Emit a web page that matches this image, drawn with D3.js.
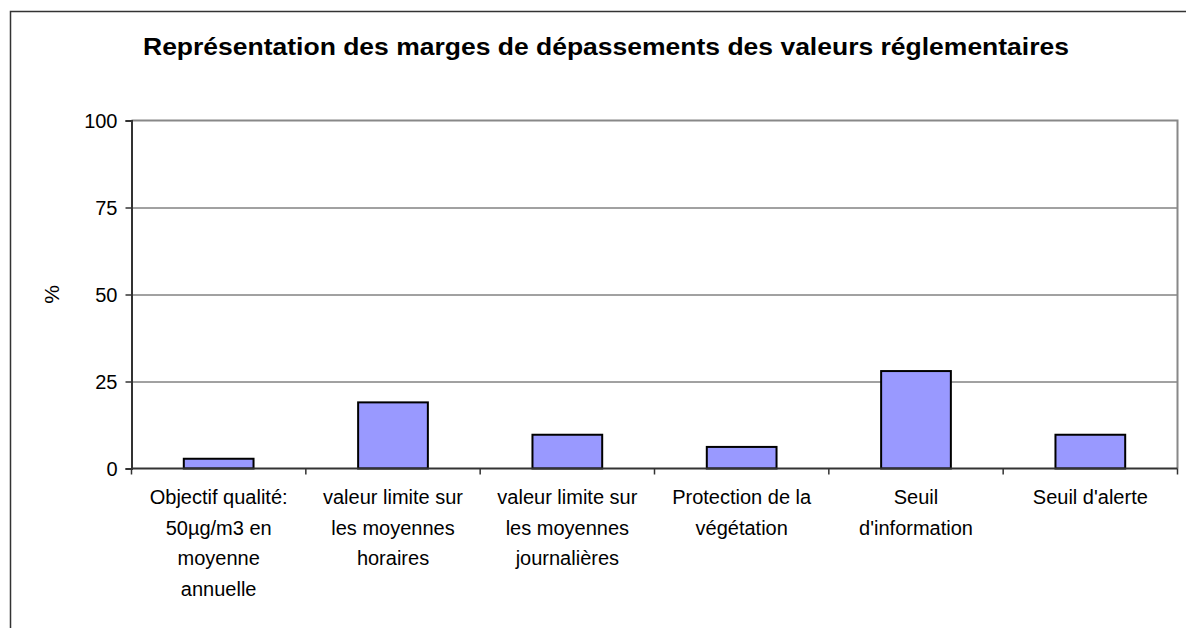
<!DOCTYPE html>
<html>
<head>
<meta charset="utf-8">
<script src="https://cdn.jsdelivr.net/npm/d3@7"></script>
<style>
  body { margin: 0; background: #fff; }
  text { font-family: "Liberation Sans", Arial, sans-serif; fill: #000; }
</style>
</head>
<body>
<svg id="chart"></svg>
<script>
// chart data
const categories = [
  'Objectif qualité:\n50µg/m3 en\nmoyenne\nannuelle',
  'valeur limite sur\nles moyennes\nhoraires',
  'valeur limite sur\nles moyennes\njournalières',
  'Protection de la\nvégétation',
  'Seuil\nd\'information',
  'Seuil d\'alerte'
]
const values = [2.8, 19, 9.7, 6.2, 28, 9.7]
const yTicks = [0, 25, 50, 75, 100]
const title = 'Représentation des marges de dépassements des valeurs réglementaires'
const yLabel = '%'

const W = 1186, H = 628
const plot = { left: 131.5, right: 1177.5, top: 120.5, bottom: 468.5 }

const svg = d3.select('#chart')
    .attr('width', W)
    .attr('height', H)

// outer chart border (runs off the picture on right/bottom)
svg.append('rect')
    .attr('x', 10.5).attr('y', 11.5)
    .attr('width', 1300).attr('height', 800)
    .attr('fill', 'none')
    .attr('stroke', '#333')
    .attr('stroke-width', 1.5)

const x = d3.scaleBand()
    .domain(categories)
    .range([plot.left, plot.right])
    .paddingInner(0.6)
    .paddingOuter(0.3)

const y = d3.scaleLinear()
    .domain([0, 100])
    .range([plot.bottom, plot.top])

// gridlines
svg.append('g')
    .attr('transform', `translate(${plot.left},0)`)
    .call(d3.axisLeft(y).tickValues(yTicks.slice(1, -1)).tickSize(-(plot.right - plot.left)).tickFormat(''))
    .call(g => g.select('.domain').remove())
    .call(g => g.selectAll('line').attr('stroke', '#444').attr('stroke-width', 1))

// plot border top + right
svg.append('path')
    .attr('d', `M${plot.left},${plot.top}H${plot.right}V${plot.bottom}`)
    .attr('fill', 'none')
    .attr('stroke', '#888')
    .attr('stroke-width', 2)

// bars
svg.append('g')
    .selectAll('rect')
    .data(values)
    .join('rect')
        .attr('x', (d, i) => x(categories[i]))
        .attr('y', d => y(d))
        .attr('width', x.bandwidth())
        .attr('height', d => y(0) - y(d))
        .attr('fill', '#9999ff')
        .attr('stroke', '#000')
        .attr('stroke-width', 2)

// y axis
const yAxis = svg.append('g')
    .attr('transform', `translate(${plot.left},0)`)
    .call(d3.axisLeft(y).tickValues(yTicks).tickSize(6).tickPadding(8))
yAxis.select('.domain').attr('stroke', '#333').attr('stroke-width', 2)
yAxis.selectAll('line').attr('stroke', '#333').attr('stroke-width', 1.5)
yAxis.selectAll('text').attr('font-size', 20).attr('dy', '0.35em')

// x axis line + ticks at category boundaries
svg.append('line')
    .attr('x1', plot.left).attr('x2', plot.right)
    .attr('y1', plot.bottom).attr('y2', plot.bottom)
    .attr('stroke', '#333').attr('stroke-width', 2)

const step = x.step()
svg.append('g')
    .selectAll('line')
    .data(d3.range(categories.length + 1))
    .join('line')
        .attr('x1', i => plot.left + i * step)
        .attr('x2', i => plot.left + i * step)
        .attr('y1', plot.bottom)
        .attr('y2', plot.bottom + 6)
        .attr('stroke', '#333')
        .attr('stroke-width', 1.5)

// category labels
const labels = svg.append('g')
    .selectAll('text')
    .data(categories)
    .join('text')
        .attr('text-anchor', 'middle')
        .attr('font-size', 20)
        .attr('transform', d => `translate(${x(d) + x.bandwidth() / 2},504)`)
labels.selectAll('tspan')
    .data(d => d.split('\n'))
    .join('tspan')
        .attr('x', 0)
        .attr('y', (d, i) => i * 30.5)
        .text(d => d)

// title
svg.append('text')
    .attr('x', 606)
    .attr('y', 54.5)
    .attr('text-anchor', 'middle')
    .attr('font-size', 23)
    .attr('font-weight', 'bold')
    .attr('textLength', 926)
    .attr('lengthAdjust', 'spacingAndGlyphs')
    .text(title)

// y label
svg.append('text')
    .attr('transform', `translate(59,${(plot.top + plot.bottom) / 2}) rotate(-90)`)
    .attr('text-anchor', 'middle')
    .attr('font-size', 21)
    .text(yLabel)
</script>
</body>
</html>
